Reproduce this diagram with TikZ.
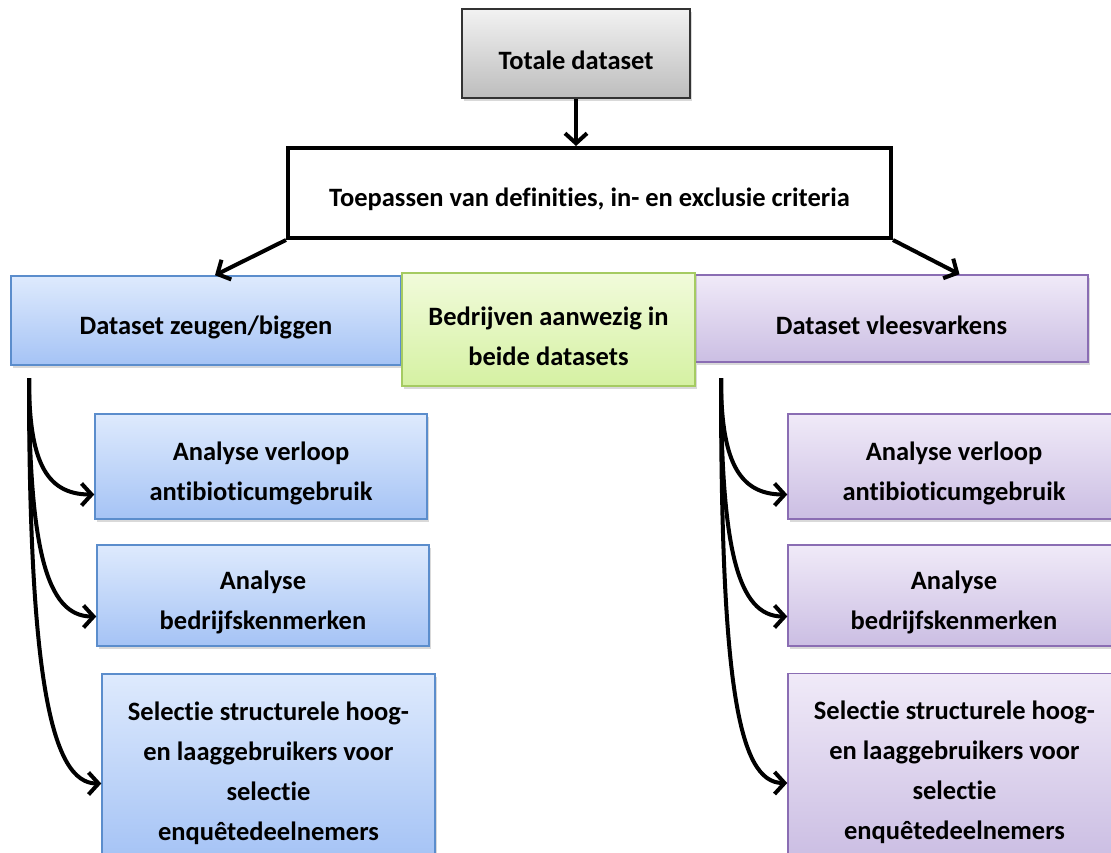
\documentclass[tikz,border=0pt]{standalone}
\usepackage{fontspec}
\setmainfont{Carlito}[Ligatures=NoCommon]
\usepackage{tikz}
\usetikzlibrary{arrows.meta,positioning,shadows}

\definecolor{grtop}{HTML}{F2F2F2}
\definecolor{grbot}{HTML}{BDBDBD}
\definecolor{zbtop}{HTML}{DEEAFD}
\definecolor{zbbot}{HTML}{A5C3F5}
\definecolor{zbline}{HTML}{5B8DCC}
\definecolor{bdtop}{HTML}{F1FBDB}
\definecolor{bdbot}{HTML}{D5F1A2}
\definecolor{bdline}{HTML}{A5CB62}
\definecolor{vvtop}{HTML}{F0EAF8}
\definecolor{vvbot}{HTML}{CBBEE3}
\definecolor{vvline}{HTML}{8A6DB3}

% Word puts the leading above each line
\newcommand{\lead}{\rule{0pt}{32pt}}

\begin{document}
\begin{tikzpicture}[x=1pt,y=-1pt]
\useasboundingbox (0,0) rectangle (1111,852);

\tikzset{box/.style={rectangle,inner sep=0pt,align=center,
		font=\fontsize{26.5}{40}\selectfont\bfseries,line width=1.5pt},
	shade/.style={drop shadow={opacity=0.3,shadow xshift=2pt,shadow yshift=-3pt}},
	totbox/.style={box,shade,draw=black!80,top color=grtop,bottom color=grbot},
	zeugbox/.style={box,shade,draw=zbline,top color=zbtop,bottom color=zbbot},
	beidebox/.style={box,shade,draw=bdline,top color=bdtop,bottom color=bdbot},
	vleesbox/.style={box,shade,draw=vvline,top color=vvtop,bottom color=vvbot},
	conn/.style={line width=4pt,-{Straight Barb[length=10pt,width=22pt]}}}

% top of the scheme
\node(tot)[totbox,minimum width=228pt,minimum height=89pt] at (576,53.5){\lead Totale dataset};
\node(toep)[box,draw=black,line width=4pt,fill=white,minimum width=603pt,minimum height=90pt]
	at (589.5,193){\lead Toepassen van definities, in- en exclusie criteria};

% the two datasets
\node(zb)[zeugbox,minimum width=390pt,minimum height=89pt] at (206,320.5){\lead Dataset zeugen/biggen};
\node(vv)[vleesbox,minimum width=393pt,minimum height=87pt] at (891.5,318.5){\lead Dataset vleesvarkens};
\node(beide)[beidebox,minimum width=293pt,minimum height=113pt] at (548.5,329.5){\lead Bedrijven aanwezig in\\beide datasets};

\draw[conn] (tot.south) -- (tot.south |- toep.north);
\draw[conn] (toep.south west) -- ([xshift=9pt]zb.north);
\draw[conn] (toep.south east) -- ([xshift=68pt]vv.north);

% the analyses
\node(zb1)[zeugbox,minimum width=332pt,minimum height=105pt] at (261,466.5){\lead Analyse verloop\\antibioticumgebruik};
\node(zb2)[zeugbox,minimum width=332pt,minimum height=101pt] at (263,595.5){\lead Analyse\\bedrijfskenmerken};
\node(zb3)[zeugbox,minimum width=333pt,minimum height=185pt] at (268.5,766.5){\lead Selectie structurele hoog-\\en laaggebruikers voor\\selectie\\enquêtedeelnemers};

\node(vv1)[vleesbox,minimum width=332pt,minimum height=105pt] at (954,466.5){\lead Analyse verloop\\antibioticumgebruik};
\node(vv2)[vleesbox,minimum width=332pt,minimum height=101pt] at (954,595.5){\lead Analyse\\bedrijfskenmerken};
\node(vv3)[vleesbox,minimum width=333pt,minimum height=185pt] at (954.5,766){\lead Selectie structurele hoog-\\en laaggebruikers voor\\selectie\\enquêtedeelnemers};

% curved connectors
\coordinate(zbfoot) at (29,378);
\coordinate(vvfoot) at (721,378);

\foreach \n/\d/\s in {1/80/-28,2/170/-21,3/300/-17}
{
\draw[conn] (zbfoot) .. controls +(0,\d) and +(-50,0) .. ([yshift=\s pt]zb\n.west);
\draw[conn] (vvfoot) .. controls +(0,\d) and +(-50,0) .. ([yshift=\s pt]vv\n.west);
}

\end{tikzpicture}
\end{document}
